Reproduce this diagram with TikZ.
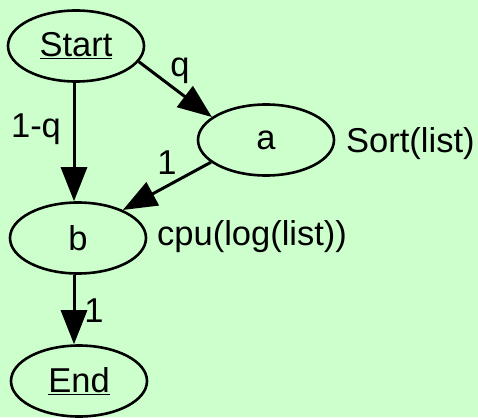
\documentclass[tikz,border=0pt]{standalone}
\usepackage{fontspec}
\setmainfont{Liberation Sans}
\usetikzlibrary{arrows.meta,shapes.geometric}
\definecolor{FlowMint}{HTML}{CCFFCC}

\begin{document}
\begin{tikzpicture}[
    x=1pt,y=-1pt,
    font=\fontsize{34.5}{40}\selectfont,
    state/.style={draw,ellipse,line width=2.6pt,minimum width=136pt,minimum height=71pt,inner sep=0pt},
    arr/.style={-{Triangle[length=34pt,width=26pt]},line width=3pt},
    lbl/.style={anchor=base,inner sep=0pt}
  ]
    \fill[FlowMint] (0,0) rectangle (478,417);
    \useasboundingbox (0,0) rectangle (478,417);

    \node[state] (start) at (76,46) {\underline{Start}};
    \node[state] (a) at (266,140) {a};
    \node[state] (b) at (78,238) {b};
    \node[state] (finish) at (79,381) {\underline{End}};

    \draw[arr] (start.-14) -- (a.157);
    \draw[arr] ([xshift=-2pt]start.south) -- ([xshift=-4pt]b.north);
    \draw[arr] (a.-158) -- (b.32);
    \draw[arr] ([xshift=-4pt]b.south) -- ([xshift=-5pt]finish.north);

    % edge weights
    \node[lbl] (wq) at (180,77) {q};
    \node[lbl] (wnq) at (36,137) {1-q};
    \node[lbl] (wab) at (167,174) {1};
    \node[lbl] (wbe) at (94,322) {1};

    % cost of each state
    \node[lbl,anchor=base west] (costa) at (346,152) {Sort(list)};
    \node[lbl,anchor=base west] (costb) at (157,245) {cpu(log(list))};
  \end{tikzpicture}
\end{document}
